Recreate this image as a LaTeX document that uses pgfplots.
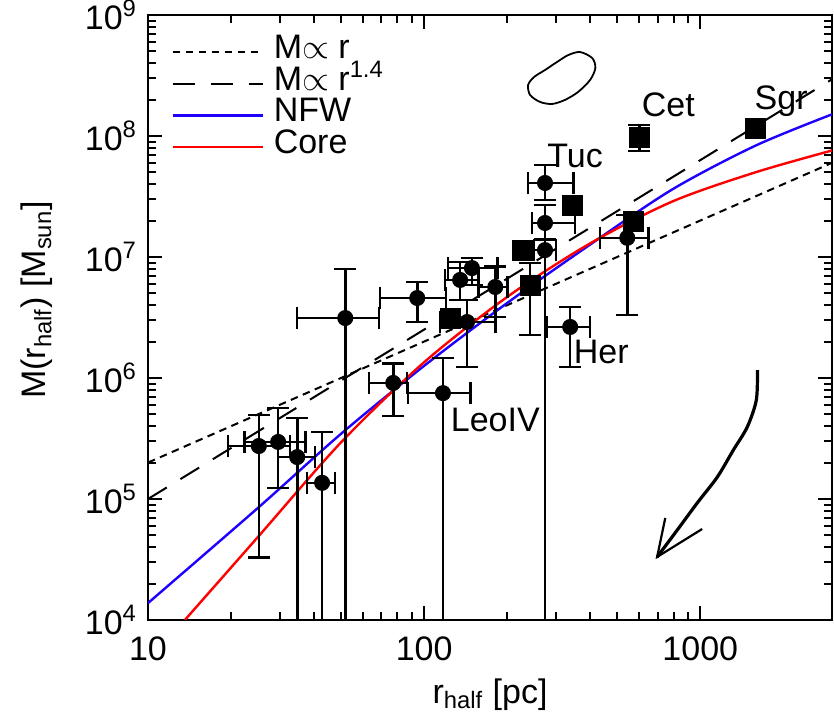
\documentclass[border=0pt]{standalone}
\usepackage{pgfplots}
\usepackage{pgfplotstable}
\pgfplotsset{compat=1.18}
\usepackage{fontspec}
\setmainfont{Liberation Sans}

\definecolor{nfwblue}{rgb}{0.12,0.0,1.0}
\definecolor{corered}{rgb}{1.0,0.0,0.0}

% dwarf galaxies with errors in both coordinates (r, M, r_lo, r_hi, M_lo, M_hi)
\pgfplotstableread{
x     y       xlo    xhi    ylo     yhi
25.2  2.74e5  19.5   32.7   3.3e4   4.94e5
29.6  2.96e5  22.4   37.1   1.23e5  5.65e5
34.7  2.22e5  29.6   40.3   5e2     4.67e5
42.7  1.36e5  37.7   47.6   5e2     3.58e5
51.8  3.13e6  34.7   68.7   5e2     7.96e6
77.3  9.1e5   63.2   86.7   4.85e5  1.31e6
94.4  4.58e6  69.3   120    2.9e6   6.2e6
117   7.5e5   87.5   147    5e2     1.46e6
143   2.9e6   114    181    1.23e6  4.41e6
135   6.46e6  119    157    4.41e6  9.1e6
149   8.1e6   122    184    5.87e6  9.8e6
181   5.65e6  157    200    3.19e6  8.3e6
274   4.09e7  238    347    2.96e7  5.75e7
274   1.91e7  246    352    1.38e7  2.69e7
274   1.14e7  250    300    5e2     1.4e7
338   2.64e6  279    399    1.23e6  3.86e6
544   1.44e7  434    649    3.32e6  2.22e7
}\circdata

% systems drawn as squares with vertical errors only
\pgfplotstableread{
x     y       ylo     yhi
242   5.87e6  2.26e6  8.9e6
601   9.8e7   7.5e7   1.23e8
}\sqerr

% squares without error bars
\pgfplotstableread{
x     y
124   3.13e6
227   1.14e7
344   2.69e7
572   1.95e7
1582  1.16e8
}\sqplain

\begin{document}
\begin{tikzpicture}[font=\fontsize{17}{20}\selectfont]
\begin{axis}[
  at={(0,0)}, anchor=south west,
  scale only axis, width=342pt, height=302.5pt,
  xmode=log, ymode=log,
  xmin=10, xmax=3000, ymin=1e4, ymax=1e9,
  xtick={10,100,1000}, xticklabels={10,100,1000},
  ytick={1e4,1e5,1e6,1e7,1e8,1e9},
  yticklabels={10\textsuperscript{4},10\textsuperscript{5},10\textsuperscript{6},10\textsuperscript{7},10\textsuperscript{8},10\textsuperscript{9}},
  tick pos=both, tick align=inside,
  major tick length=7pt, minor tick length=4pt,
  every tick/.style={black, line width=1pt},
  axis line style={line width=1.3pt},
  tick label style={font=\fontsize{17}{20}\selectfont},
  xticklabel style={yshift=-5pt},
  yticklabel style={xshift=-2pt},
  label style={font=\fontsize{17}{20}\selectfont},
  xlabel={r\textsubscript{half} [pc]},
  ylabel={M(r\textsubscript{half}) [M\textsubscript{sun}]},
  xlabel style={yshift=-2pt},
  ylabel style={at={(axis description cs:-0.162,0.529)}, anchor=center, rotate=0},
  legend style={at={(0.0336,0.965)}, anchor=north west, draw=none, fill=none,
    inner sep=0pt, row sep=0pt, column sep=0pt,
    nodes={inner xsep=5pt, inner ysep=0pt, text height=11pt, text depth=4.75pt},
    font=\fontsize{17}{20}\selectfont},
  legend cell align=left,
  legend image code/.code={\draw[#1] (0pt,0pt) -- (45pt,0pt);},
  clip=true,
]
% power laws and halo models
\addplot[black, line width=1pt, dash pattern=on 3.75pt off 2.75pt] coordinates {(10,2e5) (3000,6e7)};
\addlegendentry{M$\propto$ r}
\addplot[black, line width=1pt, dash pattern=on 11pt off 8pt] coordinates {(10,1e5) (3000,2.94e8)};
\addlegendentry{M$\propto$ r\textsuperscript{1.4}}
\addplot[nfwblue, line width=1.2pt, smooth] coordinates {
  (10,1.38e4) (25.1,8.5e4) (50.1,3.47e5) (100,1.26e6) (200,4.17e6)
  (398,1.26e7) (794,3.63e7) (1585,8.32e7) (3000,1.51e8)};
\addlegendentry{NFW}
\addplot[corered, line width=1.2pt, smooth] coordinates {
  (13.6,1e4) (25.1,4.9e4) (50.1,2.95e5) (100,1.35e6) (200,4.68e6)
  (398,1.29e7) (794,2.88e7) (1585,5.01e7) (3000,7.59e7)};
\addlegendentry{Core}

% measured dwarfs
\addplot[black, only marks, mark=*, mark size=3.8pt,
  error bars/.cd, x dir=both, y dir=both, x explicit, y explicit,
  error bar style={line width=1.3pt},
  error mark options={line width=1.3pt, mark size=5.5pt, rotate=90}]
  table[x=x, y=y,
    x error minus expr=\thisrow{x}-\thisrow{xlo},
    x error plus expr=\thisrow{xhi}-\thisrow{x},
    y error minus expr=\thisrow{y}-\thisrow{ylo},
    y error plus expr=\thisrow{yhi}-\thisrow{y}] {\circdata};
\addplot[black, only marks, mark=square*, mark size=5pt,
  error bars/.cd, y dir=both, y explicit,
  error bar style={line width=1.3pt},
  error mark options={line width=1.3pt, mark size=5.5pt, rotate=90}]
  table[x=x, y=y,
    y error minus expr=\thisrow{y}-\thisrow{ylo},
    y error plus expr=\thisrow{yhi}-\thisrow{y}] {\sqerr};
\addplot[black, only marks, mark=square*, mark size=5pt] table[x=x, y=y] {\sqplain};

% likelihood contour
\addplot[black, line width=0.9pt, smooth cycle] coordinates {
  (367,4.94e8) (406,4.41e8) (417,3.65e8) (399,2.90e8) (361,2.31e8)
  (324,1.99e8) (291,1.84e8) (263,1.91e8) (242,2.18e8) (238,2.64e8)
  (250,3.07e8) (274,3.51e8) (303,4.09e8) (333,4.67e8)};

% curved arrow
\addplot[black, line width=1.6pt, smooth] coordinates {
  (1611,1.16e6) (1596,6.58e5) (1480,3.94e5) (1318,2.54e5) (1153,1.52e5)
  (975,9.27e4) (826,5.55e4) (698,3.32e4)};
\addplot[black, line width=1.1pt] coordinates {(747,6.97e4) (698,3.32e4) (1016,5.65e4)};

% names
\node[anchor=base] at (axis cs:766,1.44e8) {Cet};
\node[anchor=base] at (axis cs:1963,1.64e8) {Sgr};
\node[anchor=base] at (axis cs:352,5.54e7) {Tuc};
\node[anchor=base] at (axis cs:438,1.33e6) {Her};
\node[anchor=base] at (axis cs:181,3.58e5) {LeoIV};
\end{axis}
\pgfresetboundingbox
\path[use as bounding box] (-74pt,-50.5pt) rectangle (343pt,310pt);
\end{tikzpicture}
\end{document}
